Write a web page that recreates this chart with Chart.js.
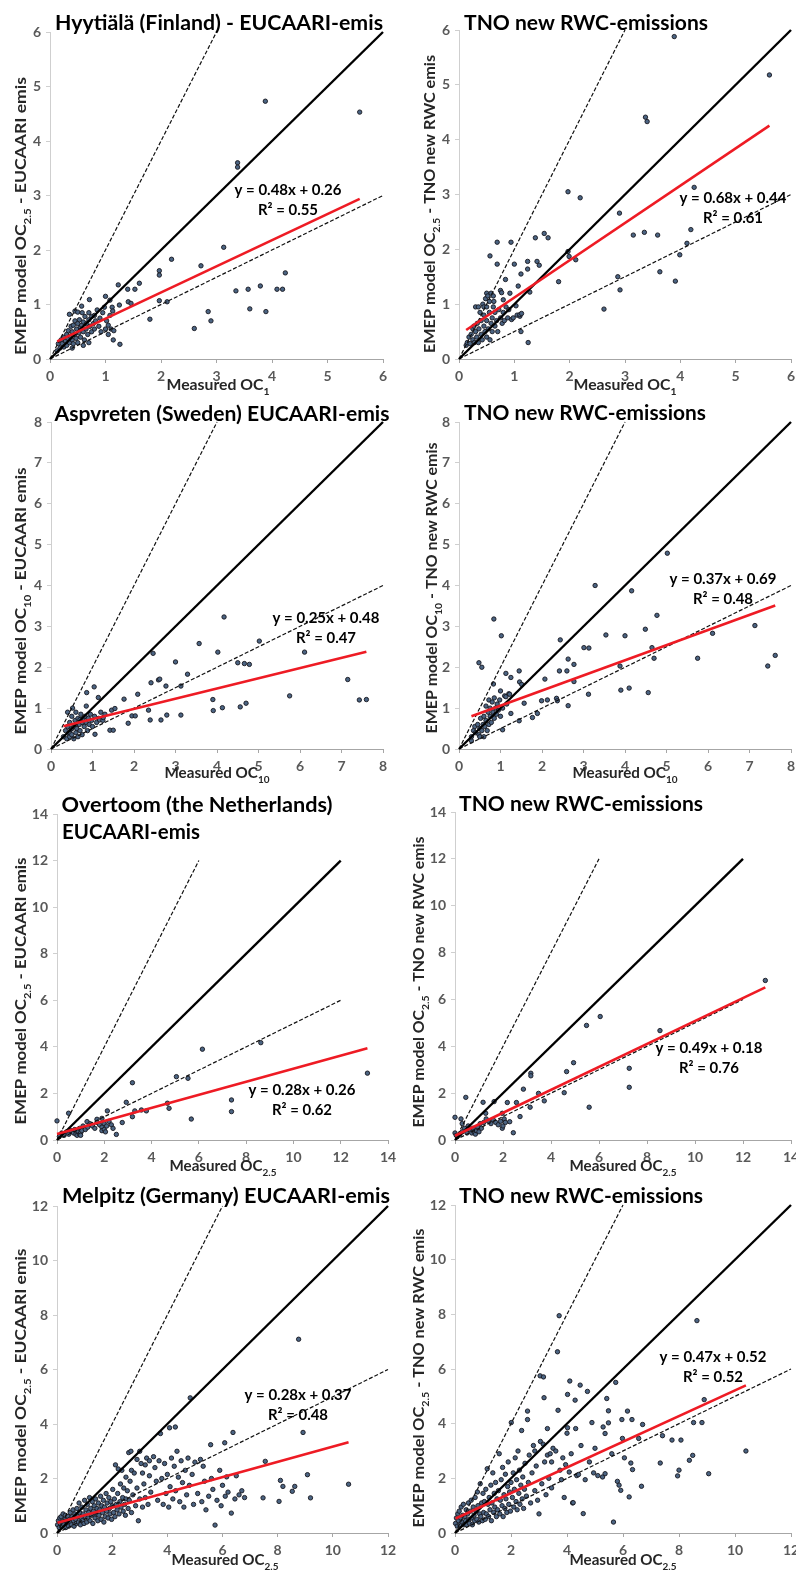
<!DOCTYPE html>
<html>
<head>
<meta charset="utf-8">
<script src="https://cdn.jsdelivr.net/npm/chart.js@4/dist/chart.umd.min.js"></script>
<style>
  html, body { margin: 0; padding: 0; background: #fff; overflow: hidden; }
  body { position: relative; width: 796px; height: 1570px; }
  canvas { position: absolute; }
</style>
</head>
<body>
<script>
// measured (x) vs modelled (y) OC, one array of [x, y] pairs per panel
const hyytialaEucaari = [[0.13,0.15],[0.15,0.28],[0.18,0.2],[0.2,0.35],[0.22,0.28],[0.25,0.4],[0.25,0.22],[0.28,0.33],[0.3,0.45],[0.3,0.25],[0.32,0.38],[0.33,0.52],[0.35,0.3],[0.35,0.82],[0.36,0.42],[0.38,0.6],[0.4,0.35],[0.4,0.5],[0.4,0.2],[0.42,0.28],[0.42,0.62],[0.45,0.45],[0.45,0.7],[0.45,0.88],[0.47,0.38],[0.48,0.55],[0.5,0.65],[0.5,0.3],[0.5,0.86],[0.52,0.48],[0.53,0.72],[0.55,0.58],[0.55,0.4],[0.57,0.62],[0.57,0.97],[0.58,0.85],[0.6,0.5],[0.6,0.68],[0.6,0.25],[0.62,0.35],[0.63,0.78],[0.65,0.55],[0.66,0.65],[0.68,0.45],[0.7,0.72],[0.7,0.85],[0.7,0.3],[0.71,1.09],[0.72,0.6],[0.75,0.5],[0.75,0.78],[0.78,0.65],[0.8,0.8],[0.8,0.55],[0.82,0.7],[0.85,0.9],[0.88,0.6],[0.9,0.75],[0.92,0.5],[0.95,0.85],[0.98,0.95],[1.0,0.55],[1.0,1.15],[1.02,0.7],[1.05,0.45],[1.05,0.62],[1.08,0.8],[1.08,1.08],[1.1,0.55],[1.12,0.95],[1.13,0.88],[1.14,0.35],[1.15,0.52],[1.23,1.36],[1.25,0.99],[1.26,0.27],[1.4,1.28],[1.41,1.05],[1.46,1.02],[1.53,1.28],[1.61,1.39],[1.8,0.73],[1.97,1.62],[1.97,1.54],[1.97,1.07],[2.11,1.05],[2.19,1.83],[2.6,0.56],[2.72,1.71],[2.85,0.87],[2.9,0.7],[3.13,2.05],[3.35,1.25],[3.38,3.6],[3.38,3.52],[3.57,1.28],[3.6,0.92],[3.79,1.34],[3.88,4.73],[3.89,0.87],[4.09,1.28],[4.19,1.28],[4.24,1.58],[5.58,4.53]];
const hyytialaTno = [[0.13,0.25],[0.15,0.3],[0.18,0.4],[0.2,0.28],[0.22,0.45],[0.25,0.35],[0.25,0.55],[0.27,0.6],[0.28,0.3],[0.3,0.5],[0.3,0.95],[0.32,0.4],[0.33,0.65],[0.35,0.3],[0.35,0.95],[0.36,0.55],[0.38,0.85],[0.4,0.45],[0.4,0.7],[0.42,0.35],[0.43,1.0],[0.45,0.6],[0.45,0.8],[0.45,0.95],[0.47,0.5],[0.48,1.1],[0.5,0.4],[0.5,0.7],[0.5,0.95],[0.5,1.2],[0.52,1.15],[0.53,0.55],[0.55,0.85],[0.55,1.05],[0.56,0.35],[0.56,1.88],[0.58,0.65],[0.58,1.2],[0.6,0.75],[0.6,0.5],[0.62,0.95],[0.62,1.15],[0.63,1.05],[0.65,0.6],[0.65,0.85],[0.68,0.7],[0.69,2.13],[0.69,1.73],[0.7,0.5],[0.72,0.9],[0.75,0.75],[0.75,1.25],[0.77,1.21],[0.78,0.65],[0.8,0.85],[0.8,1.08],[0.82,0.7],[0.84,1.45],[0.85,0.95],[0.88,0.75],[0.9,0.9],[0.92,1.2],[0.94,2.13],[0.95,0.72],[0.98,0.75],[1.0,1.73],[1.03,0.97],[1.05,0.8],[1.07,1.33],[1.1,0.78],[1.1,0.81],[1.12,1.55],[1.12,0.5],[1.13,0.83],[1.24,1.78],[1.24,1.64],[1.25,0.3],[1.28,1.22],[1.38,2.21],[1.41,1.78],[1.45,1.71],[1.54,2.29],[1.61,2.21],[1.8,1.41],[1.97,3.05],[1.97,1.96],[1.99,1.87],[2.11,1.81],[2.19,2.94],[2.62,0.91],[2.87,1.5],[2.9,2.66],[2.91,1.26],[3.15,2.26],[3.35,2.31],[3.37,4.41],[3.4,4.33],[3.59,2.26],[3.63,1.59],[3.89,5.88],[3.91,1.42],[3.99,1.9],[4.12,2.11],[4.19,2.36],[4.25,3.13],[5.61,5.18]];
const aspvretenEucaari = [[0.3,0.3],[0.35,0.45],[0.38,0.25],[0.4,0.55],[0.4,0.9],[0.42,0.38],[0.45,0.65],[0.45,0.3],[0.45,0.4],[0.48,0.48],[0.5,0.8],[0.5,0.35],[0.5,0.5],[0.52,1.0],[0.55,0.55],[0.55,0.25],[0.58,0.7],[0.6,0.4],[0.6,0.9],[0.6,0.6],[0.62,0.5],[0.65,0.3],[0.65,0.75],[0.68,0.6],[0.7,0.45],[0.7,0.72],[0.72,0.85],[0.75,0.65],[0.75,0.35],[0.78,0.75],[0.8,0.55],[0.82,0.8],[0.85,0.65],[0.85,1.05],[0.86,1.38],[0.88,0.45],[0.9,0.75],[0.92,0.6],[0.95,0.85],[0.98,0.7],[1.0,0.55],[1.04,1.52],[1.05,0.8],[1.06,0.36],[1.1,0.65],[1.14,1.26],[1.15,0.75],[1.17,0.71],[1.2,0.9],[1.25,0.7],[1.26,0.77],[1.3,0.85],[1.42,0.46],[1.46,0.95],[1.5,0.46],[1.54,0.99],[1.76,1.22],[1.86,0.63],[1.95,0.81],[2.03,0.81],[2.09,1.34],[2.35,0.95],[2.39,0.71],[2.41,1.62],[2.46,2.34],[2.59,1.69],[2.62,1.71],[2.65,0.71],[2.77,1.54],[2.79,0.83],[3.0,2.13],[3.13,1.54],[3.13,0.83],[3.29,1.83],[3.57,2.58],[3.9,1.21],[3.91,0.94],[4.02,2.37],[4.13,1.01],[4.17,3.23],[4.5,2.11],[4.56,1.03],[4.66,2.09],[4.7,1.12],[4.78,2.07],[5.02,2.64],[5.75,1.3],[6.11,2.37],[7.15,1.7],[7.43,1.2],[7.6,1.21]];
const aspvretenTno = [[0.3,0.2],[0.3,0.3],[0.35,0.45],[0.38,0.55],[0.4,0.4],[0.45,0.6],[0.48,0.35],[0.48,2.11],[0.5,0.5],[0.5,0.3],[0.52,0.75],[0.55,0.45],[0.55,2.0],[0.58,0.6],[0.6,0.3],[0.6,0.8],[0.62,0.55],[0.65,0.7],[0.65,1.05],[0.68,0.45],[0.7,0.9],[0.72,0.6],[0.72,1.2],[0.75,0.8],[0.75,1.0],[0.78,0.65],[0.8,1.15],[0.82,0.9],[0.83,1.59],[0.84,3.18],[0.85,0.75],[0.85,1.25],[0.88,1.0],[0.9,0.85],[0.92,1.1],[0.95,0.95],[0.98,1.2],[1.0,0.8],[1.0,1.42],[1.02,2.77],[1.05,1.0],[1.05,0.47],[1.1,1.3],[1.13,1.85],[1.13,1.28],[1.15,1.1],[1.2,1.35],[1.22,1.34],[1.25,1.75],[1.25,0.87],[1.45,1.91],[1.45,0.69],[1.46,1.64],[1.51,1.58],[1.57,1.12],[1.77,0.77],[1.89,0.87],[1.99,1.18],[2.07,1.71],[2.13,1.2],[2.35,1.24],[2.37,1.18],[2.42,1.91],[2.44,2.67],[2.6,1.91],[2.63,2.2],[2.63,1.06],[2.77,2.07],[2.77,1.65],[3.01,2.48],[3.12,1.34],[3.13,2.47],[3.28,4.0],[3.54,2.79],[3.88,2.03],[3.9,1.44],[4.0,2.77],[4.1,1.49],[4.16,3.87],[4.49,2.93],[4.56,1.38],[4.65,2.48],[4.7,2.22],[4.77,3.27],[5.02,4.79],[5.75,2.22],[6.11,2.83],[7.13,3.02],[7.44,2.03],[7.62,2.29]];
const overtoomEucaari = [[0,0.82],[0.1,0.15],[0.2,0.3],[0.3,0.2],[0.4,0.35],[0.49,1.15],[0.5,0.25],[0.6,0.4],[0.7,0.3],[0.75,0.45],[0.8,0.25],[0.85,0.2],[0.9,0.35],[0.95,0.5],[0.95,0.25],[1.0,0.3],[1.0,0.2],[1.05,0.4],[1.1,0.6],[1.2,0.45],[1.27,0.79],[1.3,0.55],[1.4,0.7],[1.5,0.6],[1.6,0.5],[1.69,0.89],[1.7,0.75],[1.8,0.65],[1.9,0.55],[1.9,0.93],[1.9,0.4],[2.0,0.45],[2.0,0.7],[2.05,0.35],[2.1,0.6],[2.13,1.25],[2.2,0.8],[2.3,0.65],[2.37,0.5],[2.51,0.24],[2.76,0.75],[2.93,1.62],[3.19,2.46],[3.19,1.0],[3.29,1.25],[3.57,1.29],[3.78,1.25],[4.67,1.58],[4.74,1.36],[5.05,2.72],[5.54,2.65],[5.68,0.9],[6.15,3.9],[7.38,1.72],[7.38,1.22],[8.62,4.18],[13.13,2.87]];
const overtoomTno = [[0,0.97],[0,0.3],[0.05,0.2],[0.1,0.15],[0.2,0.25],[0.25,0.9],[0.3,0.35],[0.3,0.7],[0.4,0.5],[0.45,1.82],[0.5,0.3],[0.55,0.6],[0.6,0.45],[0.7,0.3],[0.75,0.5],[0.8,0.35],[0.85,0.25],[0.9,0.4],[0.95,0.55],[1.0,0.35],[1.05,0.7],[1.1,0.5],[1.17,1.61],[1.2,0.75],[1.28,1.14],[1.3,0.9],[1.4,0.8],[1.5,0.7],[1.6,0.85],[1.63,1.64],[1.7,0.75],[1.8,0.65],[1.9,0.8],[1.97,0.5],[1.97,1.14],[2.0,0.6],[2.05,0.9],[2.1,0.75],[2.18,1.6],[2.28,0.78],[2.43,0.31],[2.56,1.6],[2.71,1.0],[2.85,2.17],[3.13,1.4],[3.16,2.85],[3.16,2.74],[3.48,1.99],[3.72,1.67],[4.55,2.02],[4.65,2.92],[4.94,3.3],[5.48,4.89],[5.59,1.4],[6.05,5.27],[7.26,3.06],[7.26,2.25],[8.54,4.67],[12.93,6.81]];
const melpitzEucaari = [[0.02,0.3],[0.05,0.45],[0.08,0.2],[0.1,0.55],[0.12,0.35],[0.15,0.6],[0.18,0.25],[0.2,0.4],[0.22,0.7],[0.25,0.3],[0.28,0.5],[0.3,0.65],[0.32,0.2],[0.35,0.45],[0.38,0.35],[0.4,0.6],[0.42,0.25],[0.45,0.5],[0.48,0.75],[0.5,0.4],[0.52,0.3],[0.55,0.6],[0.58,0.85],[0.6,0.45],[0.62,0.25],[0.65,0.7],[0.68,0.5],[0.7,0.35],[0.72,0.9],[0.75,0.6],[0.78,0.4],[0.8,1.1],[0.82,0.75],[0.85,0.3],[0.88,0.55],[0.9,0.95],[0.92,0.45],[0.95,0.7],[0.98,0.35],[1.0,1.2],[1.02,0.6],[1.05,0.85],[1.08,0.4],[1.1,1.05],[1.12,0.55],[1.15,0.75],[1.18,1.3],[1.2,0.45],[1.22,0.9],[1.25,0.65],[1.28,1.15],[1.3,0.35],[1.32,0.8],[1.35,1.0],[1.38,0.55],[1.4,1.25],[1.42,0.7],[1.45,0.9],[1.48,0.45],[1.5,1.1],[1.52,0.65],[1.55,0.85],[1.58,1.35],[1.6,0.5],[1.62,1.0],[1.65,0.75],[1.68,1.2],[1.7,0.4],[1.72,0.95],[1.75,0.6],[1.78,1.45],[1.8,0.8],[1.82,1.1],[1.85,0.55],[1.88,1.3],[1.9,0.9],[1.92,0.7],[1.95,1.15],[1.98,0.5],[2.0,1.0],[2.02,1.6],[2.05,0.75],[2.08,1.25],[2.1,0.6],[2.12,2.5],[2.15,1.05],[2.18,0.85],[2.2,1.45],[2.22,2.35],[2.25,0.7],[2.28,1.15],[2.3,1.8],[2.32,0.95],[2.35,2.3],[2.38,1.3],[2.4,0.8],[2.42,1.65],[2.45,1.05],[2.48,0.65],[2.5,1.25],[2.5,2.05],[2.55,1.55],[2.58,0.9],[2.6,2.95],[2.62,1.2],[2.65,1.9],[2.68,3.0],[2.7,0.75],[2.7,2.3],[2.75,1.4],[2.8,2.2],[2.85,1.0],[2.9,1.65],[2.9,2.7],[2.95,0.45],[3.0,1.25],[3.0,3.0],[3.05,2.55],[3.1,0.95],[3.1,2.2],[3.15,1.8],[3.2,1.3],[3.2,2.5],[3.25,2.75],[3.3,1.05],[3.35,2.1],[3.35,2.65],[3.4,1.5],[3.5,2.8],[3.55,2.4],[3.6,1.9],[3.65,1.2],[3.7,2.65],[3.75,3.65],[3.8,2.0],[3.85,1.05],[3.9,2.55],[3.95,1.45],[4.0,2.15],[4.05,0.95],[4.08,3.86],[4.1,1.7],[4.15,2.75],[4.2,1.25],[4.25,2.45],[4.29,3.89],[4.3,1.55],[4.35,3.0],[4.4,2.05],[4.45,1.15],[4.5,2.65],[4.55,1.85],[4.6,0.95],[4.65,2.3],[4.7,1.4],[4.75,2.75],[4.8,1.75],[4.83,4.96],[4.9,2.15],[4.95,1.05],[5.0,2.6],[5.1,1.45],[5.2,2.7],[5.25,1.15],[5.3,2.45],[5.35,1.9],[5.4,0.85],[5.5,1.35],[5.57,3.24],[5.6,2.0],[5.65,1.6],[5.73,0.29],[5.8,1.2],[5.9,2.3],[5.95,1.0],[6.0,1.75],[6.08,3.31],[6.1,1.35],[6.15,2.06],[6.2,1.5],[6.32,0.73],[6.38,3.69],[6.45,1.25],[6.5,2.1],[6.6,1.4],[6.7,1.55],[6.8,1.3],[7.47,1.29],[7.55,2.63],[8.05,1.16],[8.1,1.93],[8.19,1.71],[8.53,1.53],[8.62,1.71],[8.76,7.11],[8.92,3.69],[9.08,2.14],[9.19,1.29],[10.57,1.79]];
const melpitzTno = [[0.02,0.35],[0.05,0.55],[0.08,0.25],[0.1,0.7],[0.12,0.45],[0.15,0.8],[0.18,0.3],[0.2,0.55],[0.22,0.95],[0.25,0.4],[0.28,0.65],[0.3,1.05],[0.32,0.3],[0.35,0.6],[0.38,0.45],[0.4,0.85],[0.42,0.3],[0.45,0.7],[0.48,1.1],[0.5,0.5],[0.52,0.35],[0.55,0.8],[0.58,1.2],[0.6,0.55],[0.62,0.3],[0.65,0.95],[0.68,0.65],[0.7,0.45],[0.72,1.3],[0.75,0.8],[0.78,0.5],[0.8,1.5],[0.82,1.0],[0.85,0.4],[0.88,0.7],[0.9,1.8],[0.92,0.6],[0.95,1.1],[0.98,0.45],[1.0,1.45],[1.02,0.75],[1.05,1.15],[1.08,0.5],[1.1,1.6],[1.12,0.7],[1.15,2.35],[1.18,1.05],[1.2,0.6],[1.22,1.3],[1.25,0.85],[1.28,1.75],[1.3,0.45],[1.32,1.1],[1.35,2.2],[1.38,0.75],[1.4,1.45],[1.42,0.95],[1.45,1.85],[1.48,0.6],[1.5,1.25],[1.52,0.85],[1.55,1.55],[1.58,2.9],[1.6,0.7],[1.62,1.2],[1.65,1.95],[1.68,1.0],[1.7,2.4],[1.72,0.6],[1.75,1.4],[1.78,0.9],[1.8,2.15],[1.82,1.25],[1.85,0.75],[1.88,1.7],[1.9,2.6],[1.92,1.05],[1.95,1.5],[1.98,0.8],[2.0,1.85],[2.01,4.04],[2.05,1.3],[2.08,2.2],[2.1,0.95],[2.12,1.6],[2.15,2.75],[2.18,1.15],[2.2,1.95],[2.22,0.85],[2.25,3.0],[2.28,1.45],[2.3,2.3],[2.32,1.05],[2.35,1.75],[2.38,3.75],[2.4,1.25],[2.42,2.05],[2.45,0.9],[2.48,1.6],[2.5,2.55],[2.55,1.35],[2.59,4.46],[2.59,4.15],[2.62,1.85],[2.65,2.85],[2.7,1.1],[2.75,2.2],[2.8,3.2],[2.85,1.55],[2.85,3.0],[2.9,2.45],[2.95,1.2],[3.0,0.7],[3.04,5.75],[3.05,3.35],[3.1,1.8],[3.15,3.25],[3.16,5.71],[3.18,4.95],[3.2,2.6],[3.25,1.4],[3.3,3.82],[3.3,2.85],[3.35,2.0],[3.4,2.9],[3.45,1.65],[3.45,2.6],[3.5,3.1],[3.6,3.0],[3.66,6.63],[3.68,4.49],[3.72,7.95],[3.75,2.3],[3.8,1.95],[3.85,2.75],[3.9,1.3],[3.95,2.5],[4.0,3.65],[4.02,3.85],[4.02,5.07],[4.08,2.23],[4.1,5.56],[4.15,2.9],[4.2,1.1],[4.22,1.11],[4.29,4.86],[4.31,3.82],[4.35,2.1],[4.41,2.14],[4.47,5.41],[4.5,3.2],[4.58,0.71],[4.65,1.95],[4.73,5.18],[4.8,2.6],[4.89,4.04],[4.95,2.2],[5.0,3.1],[5.1,2.1],[5.27,2.05],[5.29,3.88],[5.36,2.17],[5.36,3.64],[5.42,4.92],[5.48,4.47],[5.48,4.03],[5.6,2.9],[5.66,0.4],[5.74,5.51],[5.8,1.89],[5.86,1.75],[5.92,1.56],[5.96,4.15],[5.98,3.46],[6.05,2.75],[6.16,4.46],[6.22,1.32],[6.28,2.56],[6.32,4.15],[6.34,2.32],[6.56,3.46],[6.66,1.71],[6.7,3.97],[7.33,2.56],[7.41,3.56],[7.75,3.4],[7.95,2.09],[8.0,2.3],[8.07,3.4],[8.37,2.66],[8.49,2.84],[8.52,4.04],[8.64,7.77],[8.82,4.04],[8.9,4.88],[9.06,2.17],[10.39,3.0]];

const panelPoints = [hyytialaEucaari, hyytialaTno, aspvretenEucaari, aspvretenTno, overtoomEucaari, overtoomTno, melpitzEucaari, melpitzTno];

// regression fits printed on each panel
const fitSlope = [0.48, 0.68, 0.25, 0.37, 0.28, 0.49, 0.28, 0.47];
const fitIntercept = [0.26, 0.44, 0.48, 0.69, 0.26, 0.18, 0.37, 0.52];
const fitR2 = [0.55, 0.61, 0.47, 0.48, 0.62, 0.76, 0.48, 0.52];

// axis ranges, tick steps and extent of the 1:1 / 2:1 / 1:2 reference lines
const axisMax = [6, 6, 8, 8, 14, 14, 12, 12];
const tickStep = [1, 1, 1, 1, 2, 2, 2, 2];
const refLineMax = [6, 6, 8, 8, 12, 12, 12, 12];

const panelTitles = [
  ['Hyytiälä (Finland) - EUCAARI-emis'],
  ['TNO new RWC-emissions'],
  ['Aspvreten (Sweden) EUCAARI-emis'],
  ['TNO new RWC-emissions'],
  ['Overtoom (the Netherlands)', 'EUCAARI-emis'],
  ['TNO new RWC-emissions'],
  ['Melpitz (Germany) EUCAARI-emis'],
  ['TNO new RWC-emissions']
];
const xSub = ['1', '1', '10', '10', '2.5', '2.5', '2.5', '2.5'];
const ySub = ['2.5', '2.5', '10', '10', '2.5', '2.5', '2.5', '2.5'];
const yTail = [' - EUCAARI emis', ' - TNO new RWC emis', ' - EUCAARI emis', ' - TNO new RWC emis',
               ' - EUCAARI emis', ' - TNO new RWC emis', ' - EUCAARI emis', ' - TNO new RWC emis'];

// ---- layout (page pixels) ----
const rowTop = [0, 390, 780, 1170];
const rowHeight = [396, 396, 396, 400];
const colLeft = [0, 396];
const colWidth = [398, 404];
// plot area: left, top, right, bottom
const plotBox = [
  [50, 32, 383, 359], [459, 30, 791, 359],
  [51, 422, 383, 749], [459, 422, 791, 749],
  [57, 814, 388, 1140], [455, 812, 791, 1140],
  [57, 1206, 388, 1533], [455, 1205, 791, 1533]
];
// title lines: centre x, baseline y, width
const titlePos = [
  [[219, 30, 328]], [[586, 30, 244]],
  [[222, 421, 335]], [[585, 420, 242]],
  [[197, 812, 271], [131, 839, 138]], [[581, 811, 244]],
  [[226, 1203, 328]], [[581, 1203, 244]]
];
// x title: centre x, baseline y, width
const xTitlePos = [[218, 390, 103], [625, 390, 103], [217, 778, 105], [625, 778, 105],
                   [223, 1171, 107], [623, 1171, 107], [225, 1565, 107], [623, 1565, 107]];
// y title (rotated): baseline x, centre y, length
const yTitlePos = [[26, 216, 278], [435, 204, 298], [26, 601, 267], [437, 588, 291],
                   [26, 991, 267], [424, 982, 291], [26, 1386, 275], [424, 1378, 299]];
// fit equation: centre x, baseline y of first line
const eqPos = [[288, 195], [733, 203], [326, 623], [723, 584],
               [302, 1095], [709, 1053], [298, 1400], [713, 1362]];

const FONT = 'Lato, "Liberation Sans", sans-serif';

function richFont(size, sub) {
  return `bold ${sub ? size * 0.66 : size}px ${FONT}`;
}

// draws a run of text pieces (some subscripted), squeezed to a given width
function drawRich(ctx, parts, cx, cy, size, width, angle, color) {
  ctx.save();
  ctx.translate(cx, cy);
  if (angle) ctx.rotate(angle);
  let natural = 0;
  const widths = parts.map(p => {
    ctx.font = richFont(size, p.sub);
    const w = ctx.measureText(p.t).width;
    natural += w;
    return w;
  });
  ctx.scale(width / natural, 1);
  ctx.fillStyle = color;
  ctx.textAlign = 'left';
  ctx.textBaseline = 'alphabetic';
  let x = -natural / 2;
  parts.forEach((p, k) => {
    ctx.font = richFont(size, p.sub);
    ctx.fillText(p.t, x, p.sub ? size * 0.3 : 0);
    x += widths[k];
  });
  ctx.restore();
}

function drawPanelText(chart, i, ox, oy) {
  const ctx = chart.ctx;
  panelTitles[i].forEach((line, k) => {
    const [cx, by, w] = titlePos[i][k];
    drawRich(ctx, [{ t: line }], cx - ox, by - oy, 20, w, 0, '#000');
  });

  const [xcx, xby, xw] = xTitlePos[i];
  drawRich(ctx, [{ t: 'Measured OC' }, { t: xSub[i], sub: true }], xcx - ox, xby - oy, 15, xw, 0, '#262626');

  const [ybx, ycy, yl] = yTitlePos[i];
  drawRich(ctx, [{ t: 'EMEP model OC' }, { t: ySub[i], sub: true }, { t: yTail[i] }],
           ybx - ox, ycy - oy, 15, yl, -Math.PI / 2, '#262626');

  const [ecx, eby] = eqPos[i];
  const eq = `y = ${fitSlope[i].toFixed(2)}x + ${fitIntercept[i].toFixed(2)}`;
  const r2 = `R² = ${fitR2[i].toFixed(2)}`;
  drawRich(ctx, [{ t: eq }], ecx - ox, eby - oy, 15, 107, 0, '#000');
  drawRich(ctx, [{ t: r2 }], ecx - ox, eby + 20 - oy, 15, 60, 0, '#000');
}

function buildPanel(i) {
  const row = Math.floor(i / 2);
  const col = i % 2;
  const ox = colLeft[col];
  const oy = rowTop[row];
  const w = colWidth[col];
  const h = rowHeight[row];
  const [bl, bt, br, bb] = plotBox[i];

  const canvas = document.createElement('canvas');
  canvas.width = w;
  canvas.height = h;
  canvas.style.left = ox + 'px';
  canvas.style.top = oy + 'px';
  document.body.appendChild(canvas);

  const pts = panelPoints[i].map(p => ({ x: p[0], y: p[1] }));
  const xs = panelPoints[i].map(p => p[0]);
  const xMin = Math.min(...xs);
  const xMax = Math.max(...xs);
  const m = refLineMax[i];

  const tickFont = { family: FONT, weight: 'bold', size: 14 };

  return new Chart(canvas, {
    type: 'scatter',
    data: {
      datasets: [
        {
          data: [{ x: xMin, y: fitSlope[i] * xMin + fitIntercept[i] }, { x: xMax, y: fitSlope[i] * xMax + fitIntercept[i] }],
          showLine: true, borderColor: '#ee1b24', borderWidth: 2.6, pointRadius: 0, order: 0, clip: false
        },
        {
          data: [{ x: 0, y: 0 }, { x: m, y: m }],
          showLine: true, borderColor: '#000', borderWidth: 2.4, pointRadius: 0, order: 1, clip: false
        },
        {
          data: [{ x: 0, y: 0 }, { x: m / 2, y: m }],
          showLine: true, borderColor: '#111', borderWidth: 1.2, borderDash: [4, 2], pointRadius: 0, order: 2, clip: false
        },
        {
          data: [{ x: 0, y: 0 }, { x: m, y: m / 2 }],
          showLine: true, borderColor: '#111', borderWidth: 1.2, borderDash: [4, 2], pointRadius: 0, order: 2, clip: false
        },
        {
          data: pts,
          pointRadius: 2.2, pointBackgroundColor: '#4b6482', pointBorderColor: '#16161e', pointBorderWidth: 0.9,
          order: 5, clip: false
        }
      ]
    },
    options: {
      responsive: false,
      animation: false,
      events: [],
      layout: { padding: { left: 0, top: bt - oy, right: ox + w - br, bottom: 0 } },
      plugins: { legend: { display: false }, tooltip: { enabled: false }, title: { display: false } },
      scales: {
        x: {
          type: 'linear', min: 0, max: axisMax[i],
          ticks: { stepSize: tickStep[i], color: '#595959', font: tickFont, padding: 5, maxRotation: 0 },
          grid: { display: true, drawOnChartArea: false, drawTicks: true, tickLength: 4, color: '#a6a6a6' },
          border: { display: true, color: '#a6a6a6', width: 1 },
          afterFit(scale) {
            scale.height = oy + h - bb;
            scale.paddingLeft = 0;
            scale.paddingRight = 0;
          }
        },
        y: {
          type: 'linear', min: 0, max: axisMax[i],
          ticks: { stepSize: tickStep[i], color: '#595959', font: tickFont, padding: 5 },
          grid: { display: true, drawOnChartArea: false, drawTicks: true, tickLength: 4, color: '#cfcfcf' },
          border: { display: true, color: '#cfcfcf', width: 1 },
          afterFit(scale) {
            scale.width = bl - ox;
            scale.paddingTop = 0;
            scale.paddingBottom = 0;
          }
        }
      }
    },
    plugins: [{
      id: 'panelText',
      afterDraw(chart) { drawPanelText(chart, i, ox, oy); }
    }]
  });
}

for (let i = 0; i < panelPoints.length; i++) {
  buildPanel(i);
}
</script>
</body>
</html>
